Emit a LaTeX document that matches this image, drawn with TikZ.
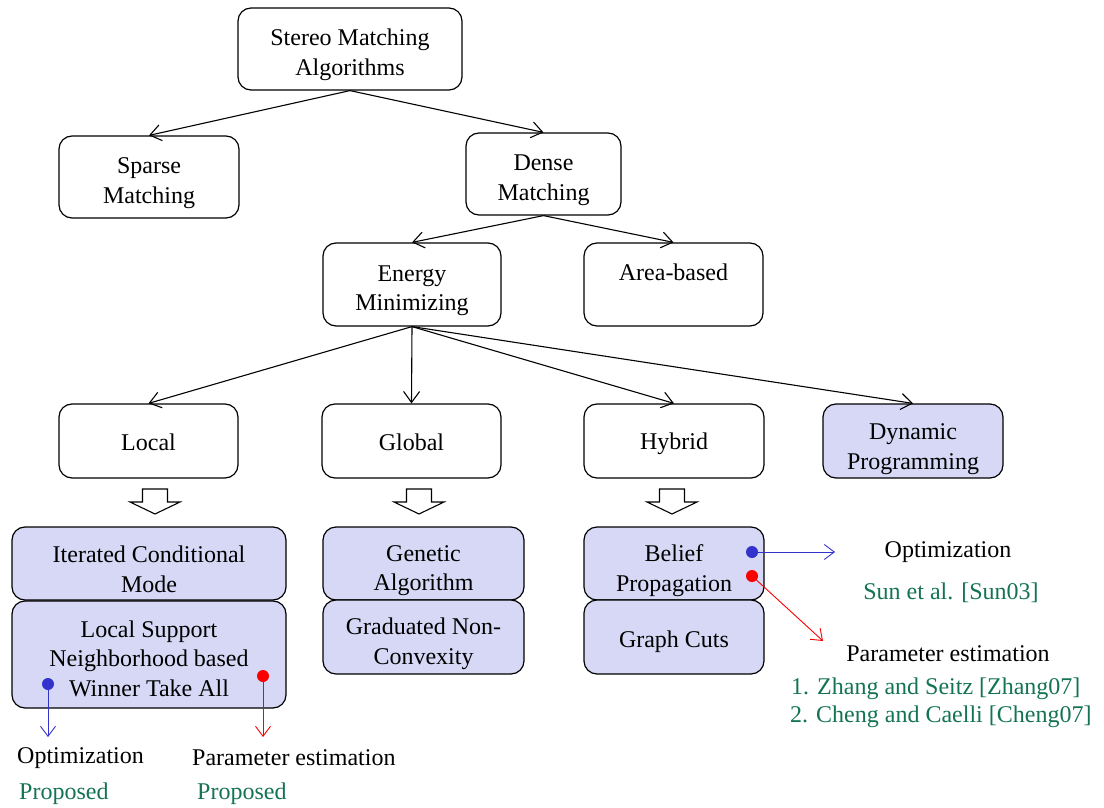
\documentclass[tikz,border=0pt]{standalone}
\usepackage{fontspec}
\setmainfont{Liberation Serif}
\usetikzlibrary{arrows.meta}
\definecolor{lav}{RGB}{214,216,245}
\definecolor{dotblue}{RGB}{50,50,205}
\definecolor{dotred}{RGB}{250,0,0}
\definecolor{refgreen}{RGB}{20,115,85}
\tikzset{
  box/.style={draw, rounded corners=13pt, line width=1.2pt, inner sep=0pt},
  fillbox/.style={box, fill=lav},
  boxtext/.style={align=center, inner sep=0pt, font=\fontsize{24}{29.5}\selectfont},
  conn/.style={line width=1.1pt, -{Straight Barb[length=11pt,width=16pt,line width=1.1pt]}},
  thinconn/.style={line width=0.9pt, -{Straight Barb[length=10pt,width=15pt,line width=0.9pt]}},
  lbl/.style={inner sep=0pt, font=\fontsize{24}{28.5}\selectfont},
  grn/.style={lbl, text=refgreen},
  hollow/.style={draw, line width=1.1pt, fill=white, line join=miter},
  dotnode/.style={circle, inner sep=0pt, minimum size=12pt},
}
% #1 style, #2 name, #3 position, #4 width, #5 height, #6 text shift down, #7 text
\newcommand{\boxnode}[7]{%
  \node[#1, minimum width=#4, minimum height=#5] (#2) at #3 {};
  \node[boxtext, yshift=-#6] (#2-text) at (#2.center) {#7};}
\newcommand{\hollowarrow}[2]{% x, y top
  \draw[hollow] (#1-12.5,#2) -- (#1+12.5,#2) -- (#1+12.5,#2+13) -- (#1+25,#2+13) -- (#1,#2+25)
    -- (#1-25,#2+13) -- (#1-12.5,#2+13) -- cycle;}
\begin{document}
\begin{tikzpicture}[x=1pt,y=-1pt]
\useasboundingbox (0,0) rectangle (1104,808);

\boxnode{box}{stereo}{(350,49)}{224pt}{82pt}{6pt}{Stereo Matching\\Algorithms}
\boxnode{box}{sparse}{(149,177)}{180pt}{82pt}{6pt}{Sparse\\Matching}
\boxnode{box}{dense}{(543.5,174)}{155pt}{82pt}{6pt}{Dense\\Matching}
\boxnode{box}{energy}{(412,284.5)}{178pt}{83pt}{6pt}{Energy\\Minimizing}
\node[box, minimum width=179pt, minimum height=83pt] (area) at (673.5,284.5) {};
\node[boxtext] (area-text) at (673.5,272) {Area-based};

\boxnode{box}{local}{(148.5,441)}{179pt}{74pt}{1pt}{Local}
\boxnode{box}{global}{(411.5,441)}{179pt}{74pt}{1pt}{Global}
\boxnode{box}{hybrid}{(674,441)}{180pt}{74pt}{3pt}{Hybrid}
\boxnode{fillbox}{dp}{(913,441)}{180pt}{74pt}{8pt}{Dynamic\\Programming}

\boxnode{fillbox}{icm}{(149,563.5)}{274pt}{73pt}{6pt}{Iterated Conditional\\Mode}
\boxnode{fillbox}{lsn}{(149,654.5)}{274pt}{107pt}{4pt}{Local Support\\Neighborhood based\\Winner Take All}
\boxnode{fillbox}{ga}{(423.5,563.5)}{201pt}{73pt}{7pt}{Genetic\\Algorithm}
\boxnode{fillbox}{gnc}{(423.5,637)}{201pt}{74pt}{7pt}{Graduated Non-\\Convexity}
\boxnode{fillbox}{bp}{(674,563.5)}{180pt}{73pt}{7pt}{Belief\\Propagation}
\boxnode{fillbox}{gc}{(674,637)}{180pt}{74pt}{5pt}{Graph Cuts}

% tree connectors
\draw[conn] (stereo.south) -- (sparse.north);
\draw[conn] (stereo.south) -- (dense.north);
\draw[conn] (dense.south) -- (energy.north);
\draw[conn] (dense.south) -- (area.north);
\draw[conn] (energy.south) -- (local.north);
\draw[conn] (energy.south) -- (global.north);
\draw[conn] (energy.south) -- (hybrid.north);
\draw[conn] (energy.south) -- (dp.north);

% hollow block arrows
\hollowarrow{155}{489}
\hollowarrow{419}{489}
\hollowarrow{672}{489}

% dots
\node[dotnode, fill=dotblue] (lb) at (48,684) {};
\node[dotnode, fill=dotred] (lr) at (263,676) {};
\node[dotnode, fill=dotblue] (bb) at (752,552) {};
\node[dotnode, fill=dotred] (br) at (752,576) {};
\coordinate (lbend) at (48,737);
\coordinate (lrend) at (263,737);
\coordinate (bbend) at (835,552);
\coordinate (brend) at (823,641);
\draw[thinconn, dotblue] (lb.center) -- (lbend);
\draw[thinconn, dotred] (lr.center) -- (lrend);
\draw[thinconn, dotblue] (bb.center) -- (bbend);
\draw[thinconn, dotred] (br.center) -- (brend);

% labels bottom-left
\node[lbl, anchor=west] (opt1) at (17,758) {Optimization};
\node[lbl, anchor=west] (par1) at (192,758) {Parameter estimation};
\node[grn, anchor=west] (prop1) at (19,794) {Proposed};
\node[grn, anchor=west] (prop2) at (197,794) {Proposed};

% labels right
\node[lbl] (opt2) at (948,552) {Optimization};
\node[grn] (sun) at (951,593) {Sun et al. [Sun03]};
\node[lbl] (par2) at (948,654) {Parameter estimation};
\node[grn, anchor=west] (zhang) at (791,689) {1. Zhang and Seitz [Zhang07]};
\node[grn, anchor=west] (cheng) at (790,717) {2. Cheng and Caelli [Cheng07]};
\end{tikzpicture}
\end{document}
